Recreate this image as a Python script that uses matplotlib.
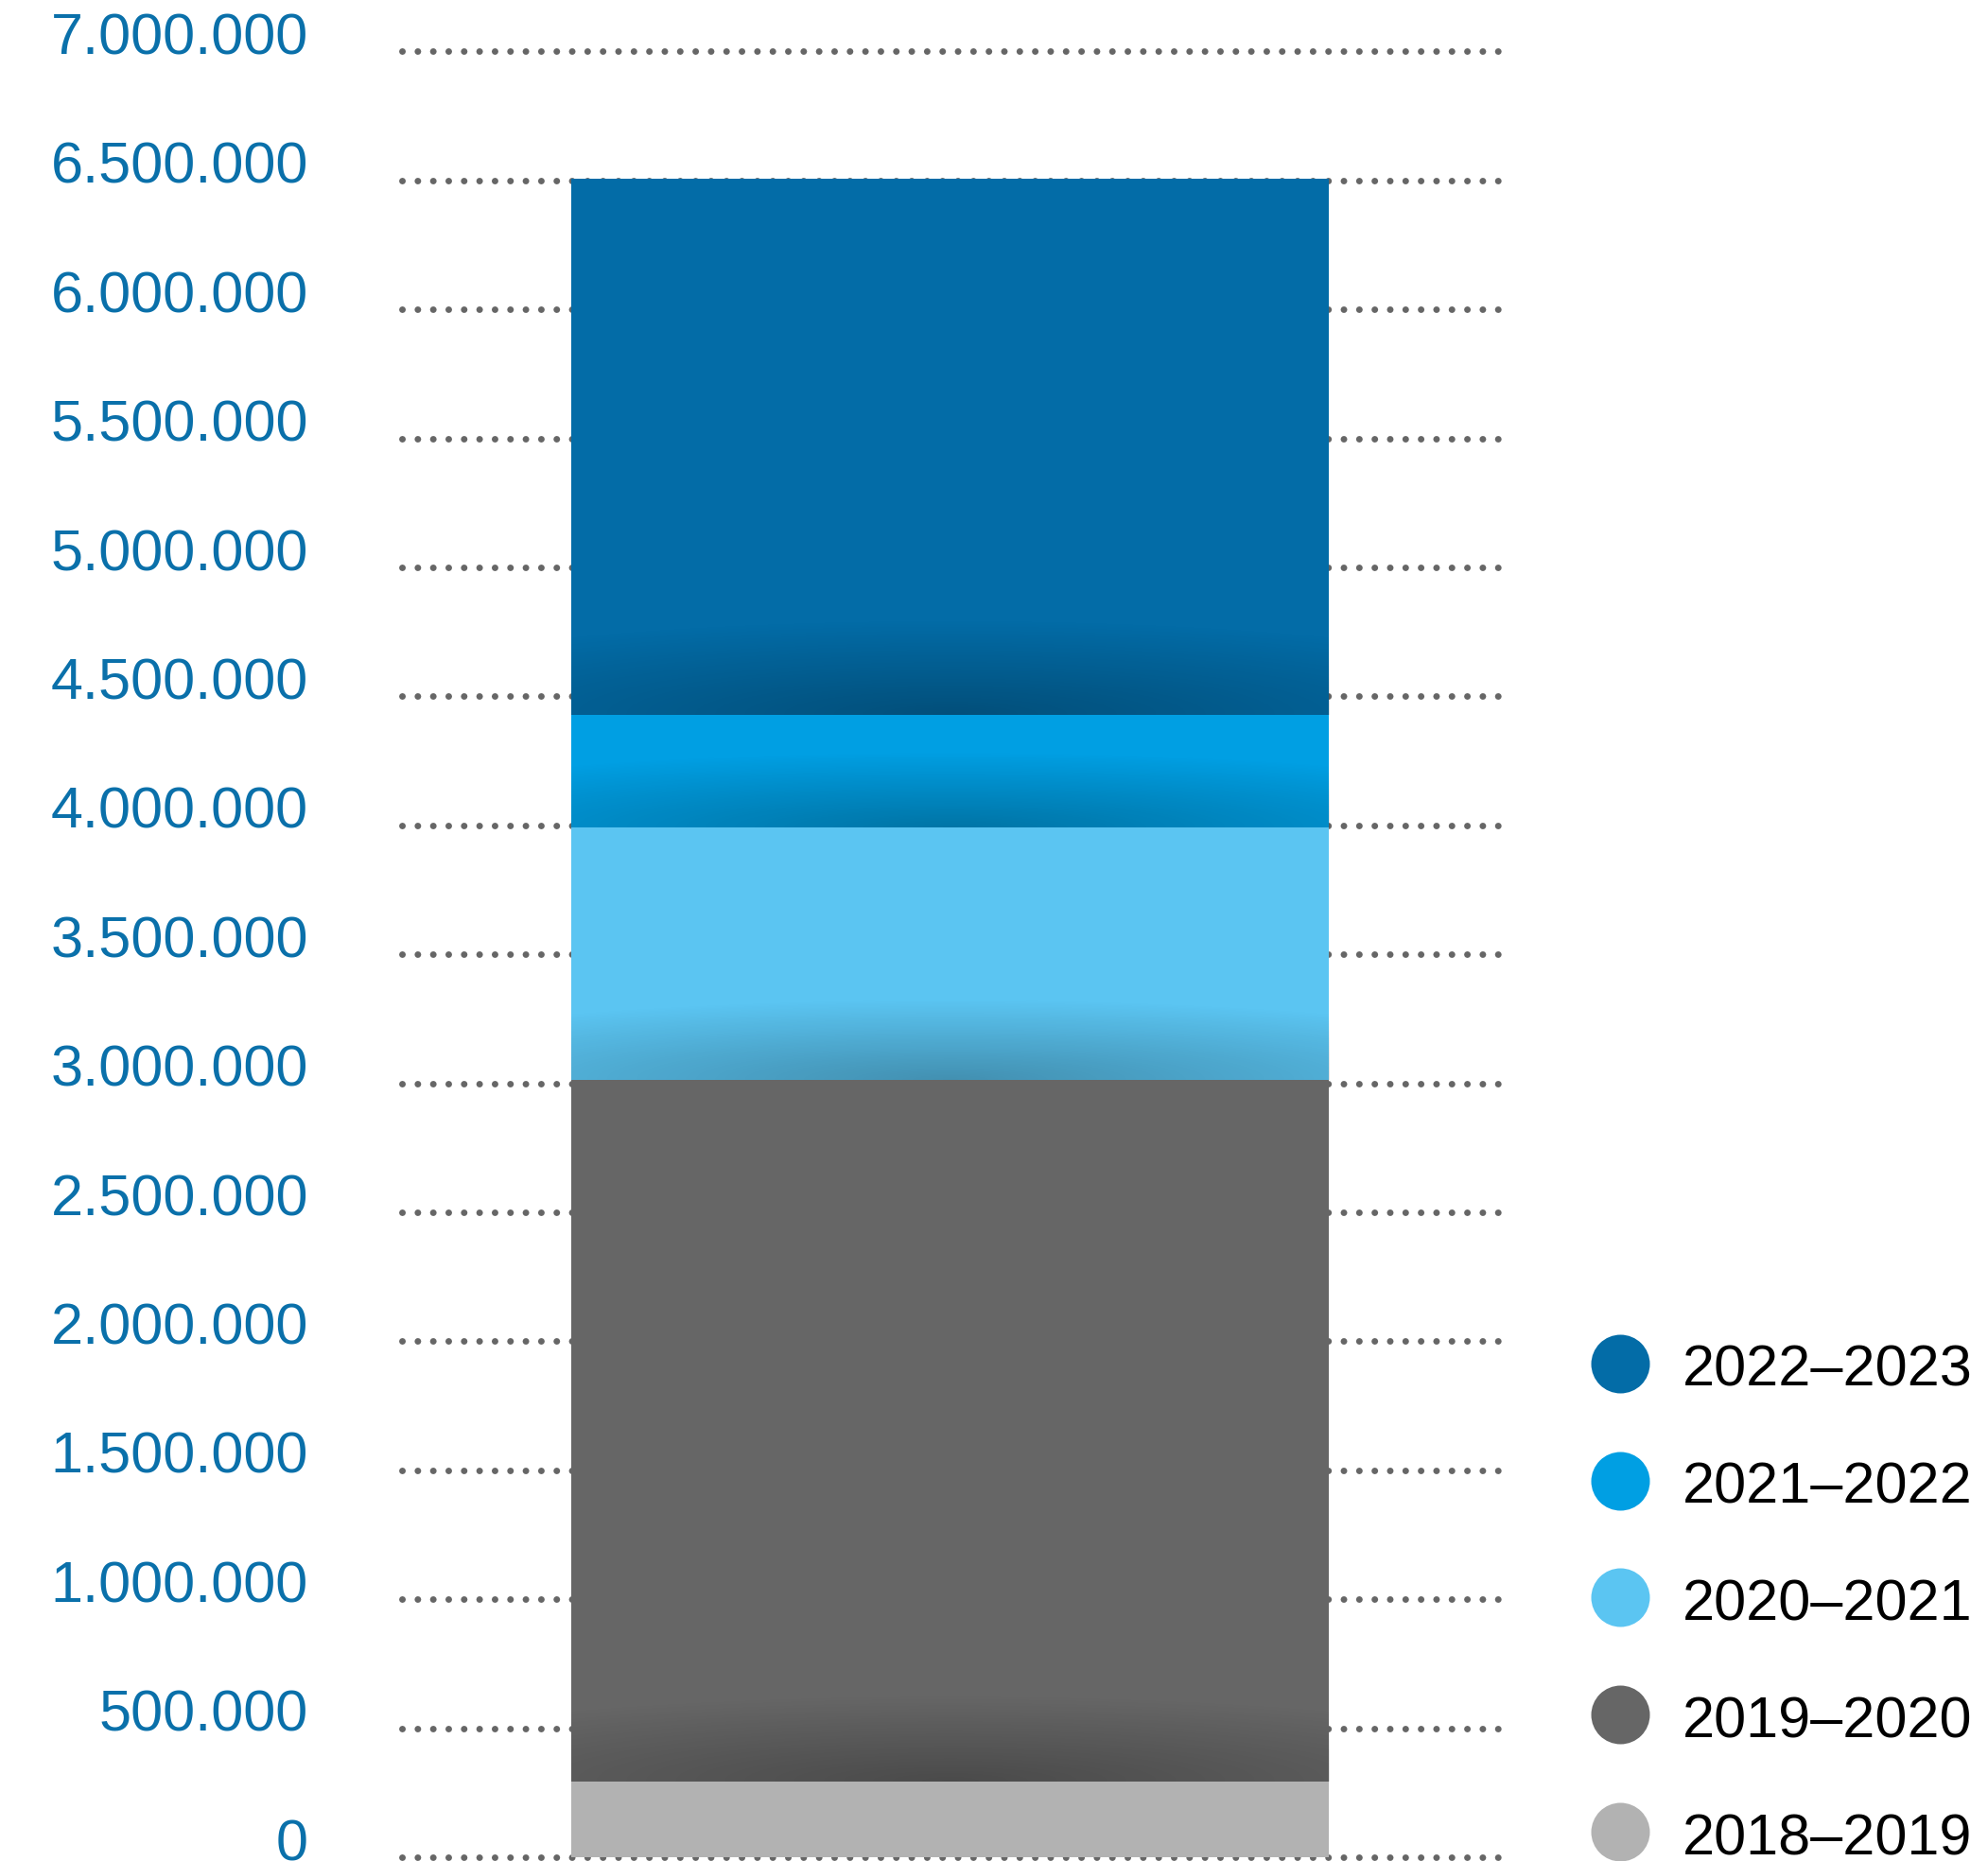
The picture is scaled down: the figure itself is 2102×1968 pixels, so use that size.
import numpy as np
import matplotlib
matplotlib.use('Agg')
import matplotlib.pyplot as plt
from matplotlib.transforms import ScaledTranslation, blended_transform_factory

# ---------------- data ----------------
periods = ['2018–2019', '2019–2020', '2020–2021', '2021–2022', '2022–2023']
values = [293000, 2720000, 979000, 436000, 2077000]
colors = ['#b2b2b2', '#666666', '#5bc5f2', '#009fe3', '#036ca7']
shadow_px = [0, 90, 85, 80, 100]
yticks = list(range(0, 7000001, 500000))
ytick_labels = [f"{v:,}".replace(',', '.') for v in yticks]

plt.rcParams['lines.dash_capstyle'] = 'round'
plt.rcParams['font.family'] = ['Liberation Sans', 'DejaVu Sans']

W, H, DPI = 2102, 1968, 100
fig = plt.figure(figsize=(W / DPI, H / DPI), dpi=DPI)
ax_l, ax_r, ax_b, ax_t = 425, 1596, 1964, 54.4
ax = fig.add_axes([ax_l / W, 1 - ax_b / H, (ax_r - ax_l) / W, (ax_b - ax_t) / H])
for s in ax.spines.values():
    s.set_visible(False)
ax.set_axisbelow(True)

px_per_unit_x = 801.0
xlim = (-0.5 - (604 - ax_l) / px_per_unit_x, 0.5 + (ax_r - 1405) / px_per_unit_x)

units_per_px = 7000000 / (ax_b - ax_t)
bottom = 0
for v, c, sp in zip(values, colors, shadow_px):
    bars = ax.bar(0, v, width=1.0, bottom=bottom, color=c, linewidth=0, zorder=2)
    patch = bars[0]
    if sp > 0:
        x0, y0 = patch.get_x(), patch.get_y()
        w, h = patch.get_width(), patch.get_height()
        sh = sp * units_per_px
        ny, nx = 300, 200
        ys = np.linspace(y0, y0 + h, ny)
        xs = np.linspace(x0, x0 + w, nx)
        X, Y = np.meshgrid(xs, ys)
        d = np.sqrt(((X - (x0 + w / 2)) / (w / 2 * 1.8)) ** 2 + ((Y - y0) / sh) ** 2)
        a = 0.27 * np.clip(1 - d, 0, 1) ** 1.0
        img = np.zeros((ny, nx, 4))
        img[..., 3] = a
        ax.imshow(img, extent=(x0, x0 + w, y0, y0 + h), origin='lower',
                  aspect='auto', zorder=3, interpolation='bilinear')
    bottom += v

ax.set_xlim(*xlim)
ax.set_ylim(0, 7000000)
ax.set_xticks([])
ax.set_yticks(yticks)
ax.tick_params(axis='y', length=0, labelleft=False)
ax.yaxis.grid(True, color='#666666', linewidth=5.0, linestyle=(0, (0.01, 11.7 / 5.0)))
for gl in ax.yaxis.get_gridlines():
    gl.set_clip_on(False)

# y tick labels
trans = blended_transform_factory(ax.transAxes, ax.transData) + \
    ScaledTranslation(0, -3 / DPI, fig.dpi_scale_trans)
lab_x = (326 - ax_l) / (ax_r - ax_l)
for v, lab in zip(yticks, ytick_labels):
    ax.text(lab_x, v, lab, transform=trans, ha='right', va='baseline',
            fontsize=44, color='#0a70aa', clip_on=False)

# legend
lax = fig.add_axes([0, 0, 1, 1], zorder=5)
lax.set_xlim(0, W)
lax.set_ylim(H, 0)
lax.axis('off')
leg_y = [1937, 1813, 1689, 1566, 1442]
for lab, c, yy in zip(periods, colors, leg_y):
    lax.scatter([1713], [yy], s=(62 * 0.72) ** 2, color=c, linewidths=0)
    lax.text(1779, yy + 24, lab, fontsize=44, color='black', ha='left', va='baseline')

fig.savefig('out.png', dpi=DPI)
